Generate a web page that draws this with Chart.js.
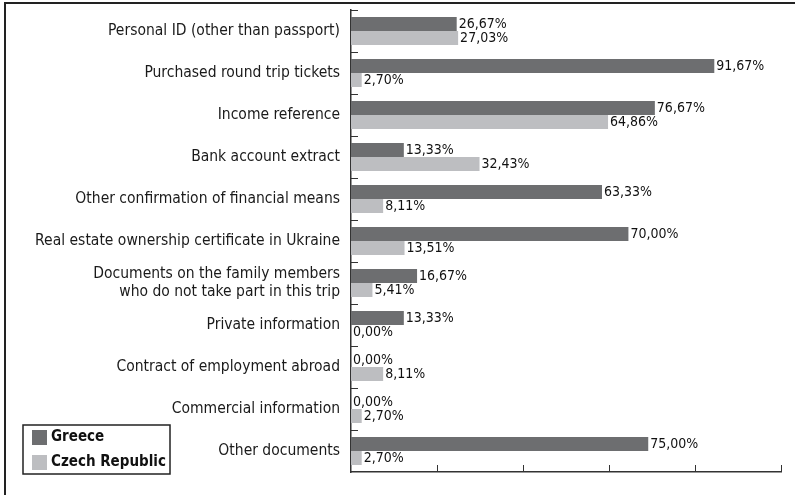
<!DOCTYPE html>
<html><head><meta charset="utf-8">
<script src="https://cdn.jsdelivr.net/npm/chart.js@4"></script>
<style>html,body{margin:0;padding:0;background:#fff;} #wrap{position:relative;width:795px;height:495px;}</style>
</head><body><div id="wrap"><canvas id="c" width="795" height="495"></canvas></div>
<script>
const categories = [
  'Personal ID (other than passport)',
  'Purchased round trip tickets',
  'Income reference',
  'Bank account extract',
  'Other confirmation of financial means',
  'Real estate ownership certificate in Ukraine',
  ['Documents on the family members', 'who do not take part in this trip'],
  'Private information',
  'Contract of employment abroad',
  'Commercial information',
  'Other documents'
];
const seriesNames = ['Greece', 'Czech Republic'];
const greece = [26.67, 91.67, 76.67, 13.33, 63.33, 70.00, 16.67, 13.33, 0.00, 0.00, 75.00];
const czech  = [27.03, 2.70, 64.86, 32.43, 8.11, 13.51, 5.41, 0.00, 8.11, 2.70, 2.70];
const xTicks = [0, 21.7, 43.4, 65.1, 86.8, 108.5];

const FONT = "'Liberation Sans Narrow', 'DejaVu Sans Condensed', 'Roboto Condensed', 'Noto Sans', sans-serif";
const colors = ['#6d6e70', '#bdbec1'];

function fmt(v){ return v.toFixed(2).replace('.', ',') + '%'; }

const framePlugin = {
  id: 'frame',
  beforeDraw(chart){
    const ctx = chart.ctx;
    ctx.save();
    ctx.strokeStyle = '#222';
    ctx.lineWidth = 2;
    ctx.beginPath();
    ctx.moveTo(5, 495); ctx.lineTo(5, 3); ctx.lineTo(795, 3);
    ctx.stroke();
    ctx.restore();
  }
};

const tickPlugin = {
  id: 'insideTicks',
  afterDraw(chart){
    const ctx = chart.ctx, y = chart.scales.y, x = chart.scales.x;
    const n = categories.length;
    const half = (y.getPixelForTick(1) - y.getPixelForTick(0)) / 2;
    ctx.save();
    ctx.strokeStyle = '#333';
    ctx.lineWidth = 1;
    ctx.beginPath();
    for (let i = 0; i < n; i++) {
      const p = Math.round(y.getPixelForTick(i) - half) + 0.5;
      ctx.moveTo(x.left, p); ctx.lineTo(x.left + 7, p);
    }
    xTicks.forEach((v, i) => {
      if (i === 0) return;
      const p = Math.round(x.getPixelForValue(v)) + 0.5;
      ctx.moveTo(p, y.bottom); ctx.lineTo(p, y.bottom - 7);
    });
    ctx.stroke();
    ctx.restore();
  }
};

const labelPlugin = {
  id: 'valueLabels',
  afterDatasetsDraw(chart){
    const ctx = chart.ctx;
    ctx.save();
    ctx.font = '14px ' + FONT;
    ctx.fillStyle = '#111';
    ctx.textBaseline = 'middle';
    ctx.textAlign = 'left';
    chart.data.datasets.forEach((ds, i) => {
      chart.getDatasetMeta(i).data.forEach((el, j) => {
        ctx.fillText(fmt(ds.data[j]), el.x + 2, el.y);
      });
    });
    ctx.restore();
  }
};

const legendPlugin = {
  id: 'boxLegend',
  afterDraw(chart){
    const ctx = chart.ctx;
    ctx.save();
    ctx.strokeStyle = '#222';
    ctx.lineWidth = 1.5;
    ctx.strokeRect(23, 425, 147, 49);
    ctx.font = 'bold 15px ' + FONT;
    ctx.textBaseline = 'middle';
    chart.data.datasets.forEach((ds, i) => {
      const cy = 437 + i * 25;
      ctx.fillStyle = ds.backgroundColor;
      ctx.fillRect(32, cy - 7, 15, 15);
      ctx.fillStyle = '#111';
      ctx.fillText(ds.label, 51, cy);
    });
    ctx.restore();
  }
};

new Chart(document.getElementById('c'), {
  type: 'bar',
  data: {
    labels: categories,
    datasets: [
      { label: seriesNames[0], data: greece, backgroundColor: colors[0] },
      { label: seriesNames[1], data: czech, backgroundColor: colors[1] }
    ]
  },
  options: {
    indexAxis: 'y',
    responsive: false,
    animation: false,
    layout: { padding: { left: 0, top: 10, right: 14, bottom: 23 } },
    datasets: { bar: { categoryPercentage: 0.667, barPercentage: 1.0 } },
    plugins: { legend: { display: false }, tooltip: { enabled: false } },
    scales: {
      x: {
        min: 0, max: 108.5,
        afterBuildTicks(s){ s.ticks = xTicks.map(v => ({ value: v })); },
        afterFit(s){ s.height = 0; s.paddingLeft = 0; s.paddingRight = 0; },
        ticks: { display: false },
        grid: { display: false },
        border: { display: true, color: '#333', width: 1.5 }
      },
      y: {
        afterFit(s){ s.width = 351; s.paddingTop = 0; s.paddingBottom = 0; },
        ticks: { padding: 11, color: '#1a1a1a', font: { family: FONT, size: 15.5, lineHeight: 1.2 } },
        grid: { display: false, drawTicks: false },
        border: { display: true, color: '#333', width: 1.5 }
      }
    }
  },
  plugins: [framePlugin, tickPlugin, labelPlugin, legendPlugin]
});
</script></body></html>
